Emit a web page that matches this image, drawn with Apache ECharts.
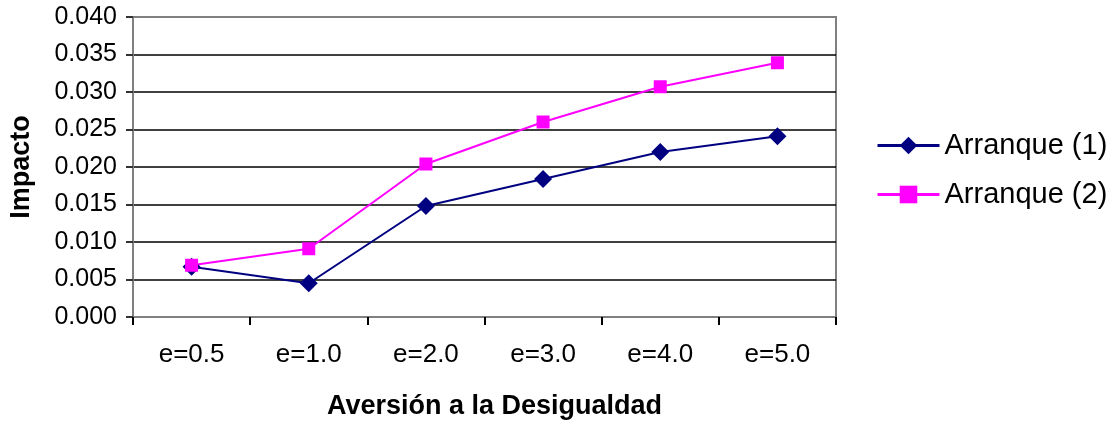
<!DOCTYPE html>
<html>
<head>
<meta charset="utf-8">
<script src="https://cdn.jsdelivr.net/npm/echarts@6/dist/echarts.min.js"></script>
<style>
  html, body { margin: 0; padding: 0; background: #fff; }
  #chart { width: 1118px; height: 429px; }
</style>
</head>
<body>
<div id="chart"></div>
<script>
// Inequality-aversion categories on the x axis
const categories = ['e=0.5', 'e=1.0', 'e=2.0', 'e=3.0', 'e=4.0', 'e=5.0'];

// Impact values for each start-up scenario
const arranque1 = [0.0067, 0.0045, 0.0148, 0.0184, 0.0220, 0.0241];
const arranque2 = [0.0069, 0.0091, 0.0204, 0.0260, 0.0307, 0.0339];

const seriesNames = ['Arranque (1)', 'Arranque (2)'];

const FONT = '"Liberation Sans", Arial, sans-serif';

const chart = echarts.init(document.getElementById('chart'), null, { renderer: 'canvas' });

chart.setOption({
  animation: false,
  backgroundColor: '#ffffff',
  textStyle: { fontFamily: FONT, color: '#000' },
  grid: {
    left: 130, right: 282, top: 17, bottom: 112,
    show: true,
    borderColor: '#808080',
    borderWidth: 2,
    containLabel: false
  },
  legend: {
    orient: 'vertical',
    left: 871,
    top: 126,
    itemWidth: 62,
    itemHeight: 22,
    itemGap: 20,
    lineStyle: { width: 3 },
    textStyle: { fontFamily: FONT, fontSize: 29, color: '#000' },
    data: seriesNames
  },
  xAxis: {
    type: 'category',
    data: categories,
    boundaryGap: true,
    axisLine: { lineStyle: { color: '#808080', width: 2 } },
    axisTick: { show: true, interval: 0, length: 8, lineStyle: { color: '#000', width: 2 } },
    axisLabel: { interval: 0, margin: 25, fontSize: 26, color: '#000', fontFamily: FONT },
    splitLine: { show: false },
    name: 'Aversión a la Desigualdad',
    nameLocation: 'middle',
    nameGap: 76,
    nameTextStyle: { fontSize: 27, fontWeight: 'bold', color: '#000', fontFamily: FONT, padding: [0, 0, 0, 20] }
  },
  yAxis: {
    type: 'value',
    min: 0,
    max: 0.04,
    interval: 0.005,
    axisLine: { show: true, lineStyle: { color: '#808080', width: 2 } },
    axisTick: { show: true, length: 7, lineStyle: { color: '#333', width: 2 } },
    axisLabel: {
      margin: 16, fontSize: 25, color: '#000', fontFamily: FONT,
      formatter: v => v.toFixed(3)
    },
    splitLine: { show: true, showMinLine: false, showMaxLine: false, lineStyle: { color: '#000', width: 1.5 } },
    name: 'Impacto',
    nameLocation: 'middle',
    nameRotate: 90,
    nameGap: 98,
    nameTextStyle: { fontSize: 27, fontWeight: 'bold', color: '#000', fontFamily: FONT }
  },
  series: [
    {
      name: seriesNames[0],
      type: 'line',
      data: arranque1,
      symbol: 'diamond',
      symbolSize: 18,
      itemStyle: { color: '#000080' },
      lineStyle: { color: '#000080', width: 2 }
    },
    {
      name: seriesNames[1],
      type: 'line',
      data: arranque2,
      symbol: 'rect',
      symbolSize: 13,
      itemStyle: { color: '#ff00ff' },
      lineStyle: { color: '#ff00ff', width: 2 }
    }
  ]
});
</script>
</body>
</html>
